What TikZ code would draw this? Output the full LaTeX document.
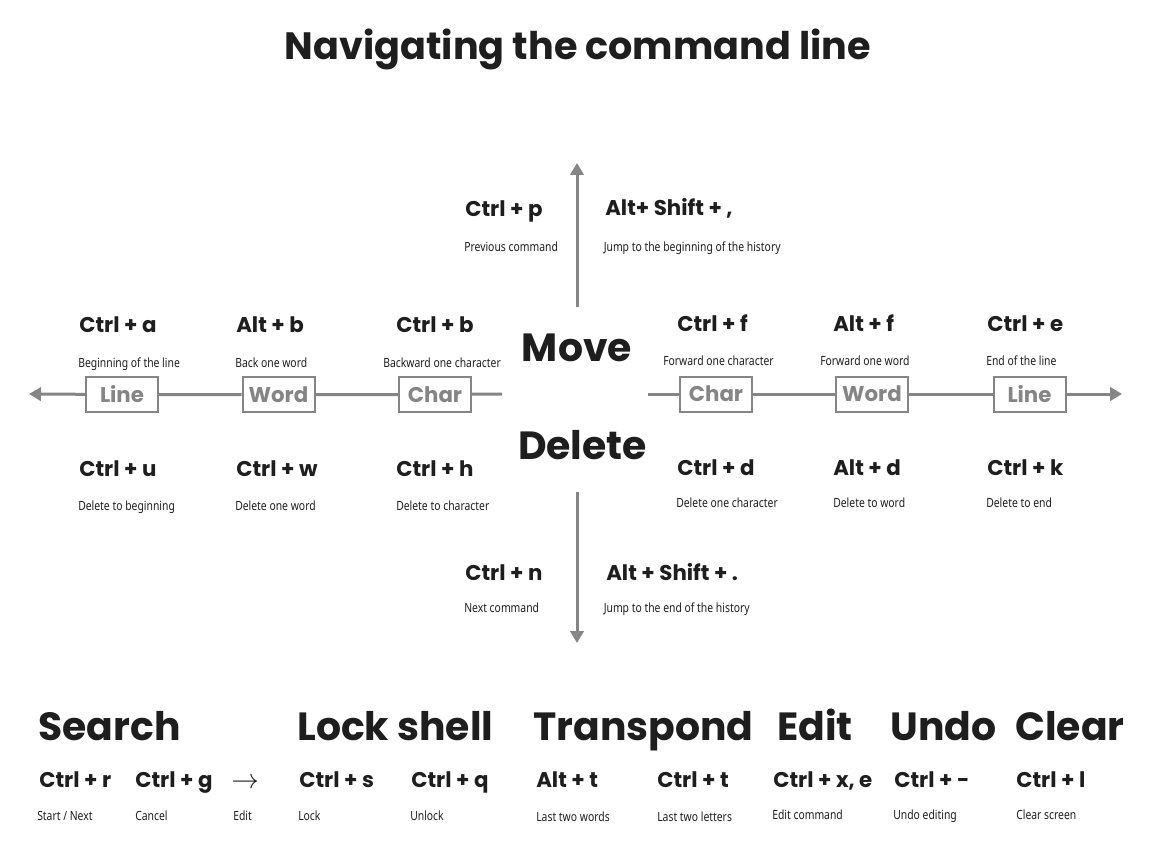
\documentclass[tikz,border=0pt]{standalone}
\usepackage{fontspec}
\setmainfont{Noto Sans}[FakeStretch=0.82]
\newfontfamily\headfont{Poppins}
\usepackage{tikz}
\usetikzlibrary{arrows.meta}
\definecolor{ink}{HTML}{1E1E1E}
\definecolor{rail}{HTML}{858585}
\tikzset{
AXIS/.style ={draw=rail,line width=2.25pt,line cap=butt},
UNIT/.style ={draw=rail,line width=1.5pt,fill=white,minimum width=54pt,minimum height=26.25pt,inner sep=0pt,
  text=rail,font=\headfont\bfseries\fontsize{16}{18}\selectfont},
KEY/.style ={anchor=base west,inner sep=0pt,text=ink,font=\headfont\bfseries\fontsize{16}{18}\selectfont},
DESC/.style ={anchor=base west,inner sep=0pt,text=ink,font=\fontsize{9.5}{11}\selectfont},
HEAD/.style ={anchor=base west,inner sep=0pt,text=ink,font=\headfont\bfseries\fontsize{29.5}{32}\selectfont},
TIP/.style ={-{Triangle[length=9pt,width=10pt]}},
}
\begin{document}
\begin{tikzpicture} [x=0.75pt, y=-0.75pt] %command line cheat sheet
	\useasboundingbox[fill=white] (0,0) rectangle (1158,863);
	\node[HEAD,anchor=base,font=\headfont\bfseries\fontsize{28.6}{30}\selectfont] (title) at (578,60) {Navigating the command line};
	\node[HEAD,anchor=base] (move) at (577,361) {Move};
	\node[HEAD,anchor=base] (delete) at (582.5,459.5) {Delete};
% history axis
	\coordinate (ubase) at (577,307);
	\coordinate (utip) at (577,163);
	\coordinate (dbase) at (577,492);
	\coordinate (dtip) at (577,643);
	\path[AXIS,TIP] (ubase) -- (utip);
	\path[AXIS,TIP] (dbase) -- (dtip);
	\node[KEY] (kp) at (465,217) {Ctrl + p};
	\node[DESC] (tp) at (464,251.5) {Previous command};
	\node[KEY] (kcomma) at (605,216) {Alt+ Shift + ,};
	\node[DESC] (tcomma) at (603.5,251.5) {Jump to the beginning of the history};
	\node[KEY] (kn) at (465,580) {Ctrl + n};
	\node[DESC] (tn) at (464,612) {Next command};
	\node[KEY] (kdot) at (606,580) {Alt + Shift + .};
	\node[DESC] (tdot) at (603.5,612) {Jump to the end of the history};
% backward axis
	\coordinate (lbase) at (502,394);
	\coordinate (ltip) at (29,394);
	\node[UNIT] (lchar) at (435,394.5) {Char};
	\node[UNIT] (lword) at (278.5,394.5) {Word};
	\node[UNIT] (lline) at (122,394.5) {Line};
	\path[AXIS,TIP] (lbase) -- (lchar) -- (lword) -- (lline) -- (ltip);
	\node[KEY] (ka) at (79,333) {Ctrl + a};
	\node[DESC] (ta) at (78,368) {Beginning of the line};
	\node[KEY] (kaltb) at (236,333) {Alt + b};
	\node[DESC] (taltb) at (235,368) {Back one word};
	\node[KEY] (kb) at (396,333) {Ctrl + b};
	\node[DESC] (tb) at (383,368) {Backward one character};
	\node[KEY] (ku) at (79,476) {Ctrl + u};
	\node[DESC] (tu) at (78,510) {Delete to beginning};
	\node[KEY] (kw) at (236,476) {Ctrl + w};
	\node[DESC] (tw) at (235,510) {Delete one word};
	\node[KEY] (kh) at (396,476) {Ctrl + h};
	\node[DESC] (th) at (396,510) {Delete to character};
% forward axis
	\coordinate (rbase) at (648,394);
	\coordinate (rtip) at (1122,394);
	\node[UNIT] (rchar) at (716,394) {Char};
	\node[UNIT] (rword) at (872,394) {Word};
	\node[UNIT] (rline) at (1029.5,394) {Line};
	\path[AXIS,TIP] (rbase) -- (rchar) -- (rword) -- (rline) -- (rtip);
	\node[KEY] (kf) at (677,332) {Ctrl + f};
	\node[DESC] (tf) at (663,365) {Forward one character};
	\node[KEY] (kaltf) at (833,332) {Alt + f};
	\node[DESC] (taltf) at (820,365) {Forward one word};
	\node[KEY] (ke) at (987,332) {Ctrl + e};
	\node[DESC] (te) at (986,365) {End of the line};
	\node[KEY] (kd) at (677,475) {Ctrl + d};
	\node[DESC] (td) at (676,507) {Delete one character};
	\node[KEY] (kaltd) at (833,475) {Alt + d};
	\node[DESC] (taltd) at (833,507) {Delete to word};
	\node[KEY] (kk) at (987,475) {Ctrl + k};
	\node[DESC] (tk) at (986,507) {Delete to end};
% bottom row
	\node[HEAD] (search) at (38,740) {Search};
	\node[HEAD] (lock) at (297,740) {Lock shell};
	\node[HEAD] (transpond) at (533,740) {Transpond};
	\node[HEAD] (edit) at (777,740) {Edit};
	\node[HEAD] (undo) at (890,740) {Undo};
	\node[HEAD] (clear) at (1015,740) {Clear};
	\node[KEY] (kr) at (39,787) {Ctrl + r};
	\node[DESC] (tr) at (37,820) {Start / Next};
	\node[KEY] (kg) at (135,787) {Ctrl + g};
	\node[DESC] (tg) at (135,820) {Cancel};
	\node[KEY,font=\fontsize{20}{20}\selectfont] (karrow) at (231,788) {$\rightarrow$};
	\node[DESC] (tarrow) at (233,820) {Edit};
	\node[KEY] (ks) at (299,787) {Ctrl + s};
	\node[DESC] (ts) at (298,820) {Lock};
	\node[KEY] (kq) at (411,787) {Ctrl + q};
	\node[DESC] (tq) at (410,820) {Unlock};
	\node[KEY] (kaltt) at (536,787) {Alt + t};
	\node[DESC] (taltt) at (536,821.5) {Last two words};
	\node[KEY] (kt) at (657,787) {Ctrl + t};
	\node[DESC] (tt) at (657,821.5) {Last two letters};
	\node[KEY] (kxe) at (773,787) {Ctrl + x, e};
	\node[DESC] (txe) at (772,819) {Edit command};
	\node[KEY] (kminus) at (894,787) {Ctrl + -};
	\node[DESC] (tminus) at (893,819) {Undo editing};
	\node[KEY] (kl) at (1016,787) {Ctrl + l};
	\node[DESC] (tl) at (1016,819) {Clear screen};
\end{tikzpicture}
\end{document}
